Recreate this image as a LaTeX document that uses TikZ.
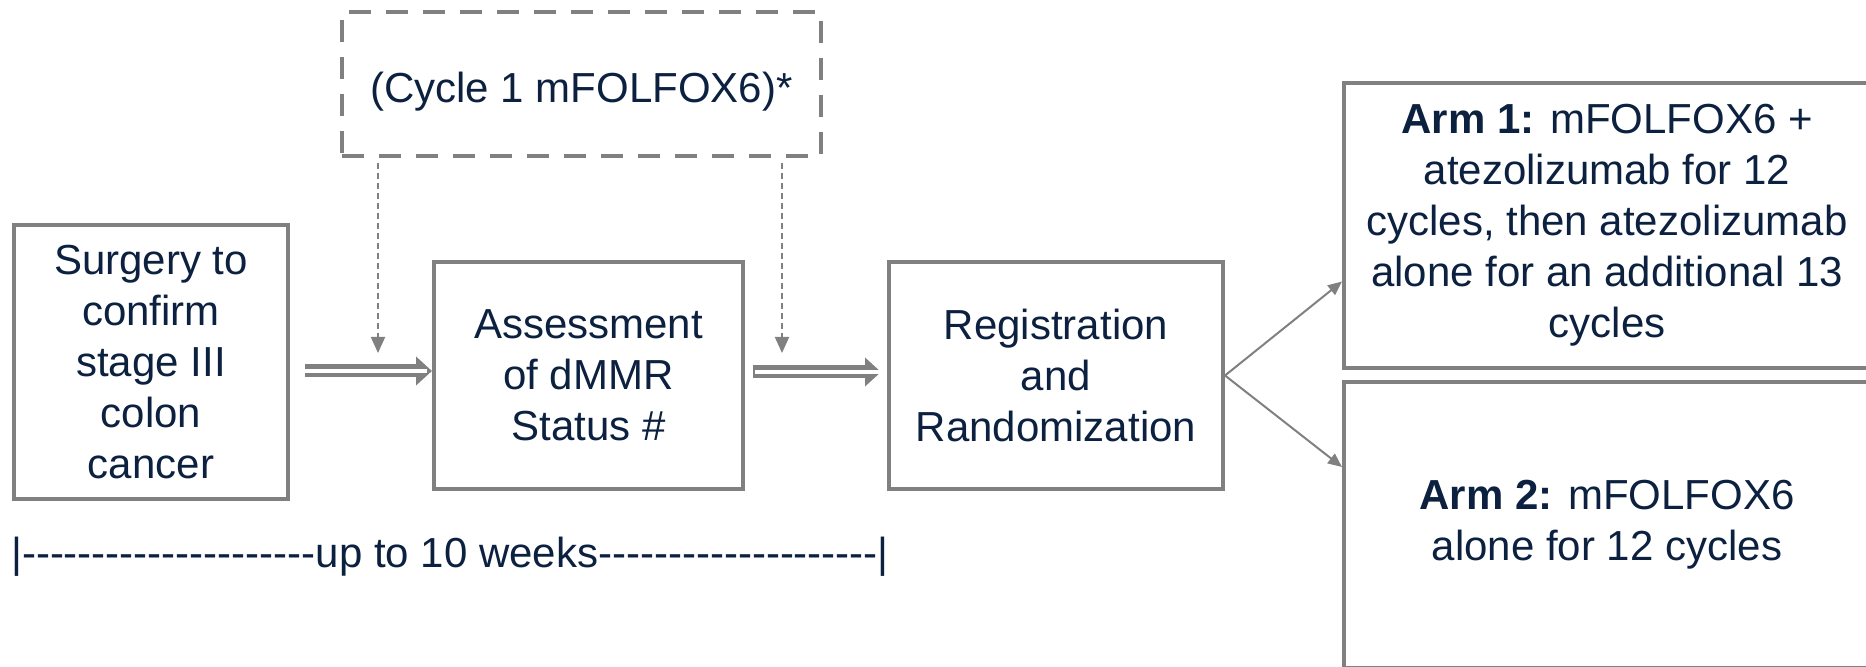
\documentclass[tikz,border=0pt]{standalone}
\usepackage{fontspec}
\setmainfont{Liberation Sans}
\usetikzlibrary{arrows.meta}
\definecolor{navy}{RGB}{12,32,64}
\definecolor{boxgray}{RGB}{128,128,128}
\begin{document}
\begin{tikzpicture}[x=0.5pt,y=-0.5pt,
  every node/.style={text=navy,font=\fontsize{21}{25.5}\selectfont,align=center,inner sep=0pt},
  box/.style={draw=boxgray,line width=2pt},
  cyclebox/.style={draw=boxgray,line width=1.75pt,dash pattern=on 11pt off 7.5pt},
  dblarrow/.style={draw=boxgray,line width=6.5pt,-{Triangle[length=8pt,width=14pt]},
    postaction={draw=white,line width=1.6pt,-,shorten <=5pt,shorten >=2.5pt}},
  dotarrow/.style={draw=boxgray,line width=0.9pt,dash pattern=on 3pt off 2pt,-{Triangle[length=8pt,width=7pt]}},
  armarrow/.style={draw=boxgray,line width=1pt,-{Triangle[length=7pt,width=6pt]}}]
\useasboundingbox (0,0) rectangle (1866,667);
\clip (0,0) rectangle (1866,667);
\node[box,minimum width=137pt,minimum height=137pt] (surg) at (151,362) {Surgery to\\confirm\\stage III\\colon\\cancer};
\node[box,minimum width=154.5pt,minimum height=113.5pt] (assess) at (588.5,375.5) {Assessment\\of dMMR\\Status \#};
\node[box,minimum width=167pt,minimum height=113.5pt] (reg) at (1056,375.5) {Registration\\and\\Randomization};
\node[cyclebox,minimum width=239.5pt,minimum height=72pt,text height=20pt,text depth=1pt] (cyc) at (581.5,84) {(Cycle 1 mFOLFOX6)*};
\node[box,minimum width=263pt,minimum height=142.5pt] (arm1) at (1607,225.5) {\textbf{Arm 1:} mFOLFOX6 +\\atezolizumab for 12\\cycles, then atezolizumab\\alone for an additional 13\\cycles};
\node[box,minimum width=263pt,minimum height=143pt] (arm2) at (1607,525) {\textbf{Arm 2:} mFOLFOX6\\alone for 12 cycles};
\node (weeks) at (450,557) {|{-}{-}{-}{-}{-}{-}{-}{-}{-}{-}{-}{-}{-}{-}{-}{-}{-}{-}{-}{-}{-}up to 10 weeks{-}{-}{-}{-}{-}{-}{-}{-}{-}{-}{-}{-}{-}{-}{-}{-}{-}{-}{-}{-}|};
\coordinate (tipa) at (378,353);
\coordinate (tipb) at (782,353);
\path[dblarrow,shorten <=7.5pt] (surg.east |- 0,371) -- (assess.west |- 0,371);
\path[dblarrow,shorten <=4pt,shorten >=3pt] (assess.east |- 0,372) -- (reg.west |- 0,372);
\path[dotarrow,shorten <=2.5pt] (cyc.south -| tipa) -- (tipa);
\path[dotarrow,shorten <=2.5pt] (cyc.south -| tipb) -- (tipb);
\path[armarrow] (reg.east) -- ([yshift=-28pt]arm1.west);
\path[armarrow] (reg.east) -- ([yshift=29pt]arm2.west);
\end{tikzpicture}
\end{document}
